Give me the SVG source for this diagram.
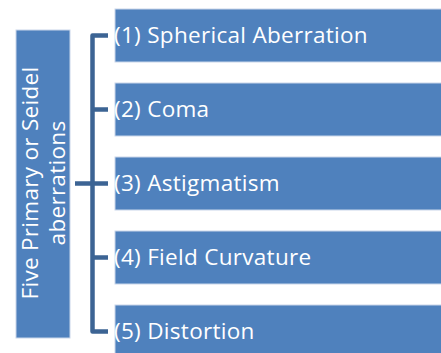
<svg xmlns="http://www.w3.org/2000/svg" width="441" height="353" viewBox="0 0 441 353">
<style>
.box{fill:#4f81bd;stroke:#c9d6ea;stroke-width:1}
.t{font-family:"Open Sans","Liberation Sans",Arial,sans-serif;font-size:22.5px;letter-spacing:0.3px;fill:#ffffff}
.c{fill:none;stroke:#3c6494;stroke-width:4.5;stroke-linejoin:round;stroke-linecap:butt}
</style>
<rect width="441" height="353" fill="#ffffff"/>
<g id="root">
<rect class="box" x="16" y="30" width="54" height="308"/>
<text class="t" transform="translate(38,183) rotate(-90)" text-anchor="middle">Five Primary or Seidel</text>
<text class="t" transform="translate(65,183) rotate(-90)" text-anchor="middle">aberrations</text>
</g>
<g id="connectors">
<path class="c" d="M108,35.5 H92.5 V331.5 H108"/>
<path class="c" d="M92.5,109.5 H108 M92.5,257.5 H108 M75,183.5 H108"/>
</g>
<g id="n1"><rect class="box" x="115" y="9" width="330" height="53"/><text class="t" x="114" y="43">(1) Spherical Aberration</text></g>
<g id="n2"><rect class="box" x="115" y="83" width="330" height="53"/><text class="t" x="114" y="117">(2) Coma</text></g>
<g id="n3"><rect class="box" x="115" y="157" width="330" height="53"/><text class="t" x="114" y="191">(3) Astigmatism</text></g>
<g id="n4"><rect class="box" x="115" y="231" width="330" height="53"/><text class="t" x="114" y="265">(4) Field Curvature</text></g>
<g id="n5"><rect class="box" x="115" y="305" width="330" height="53"/><text class="t" x="114" y="339">(5) Distortion</text></g>
</svg>
